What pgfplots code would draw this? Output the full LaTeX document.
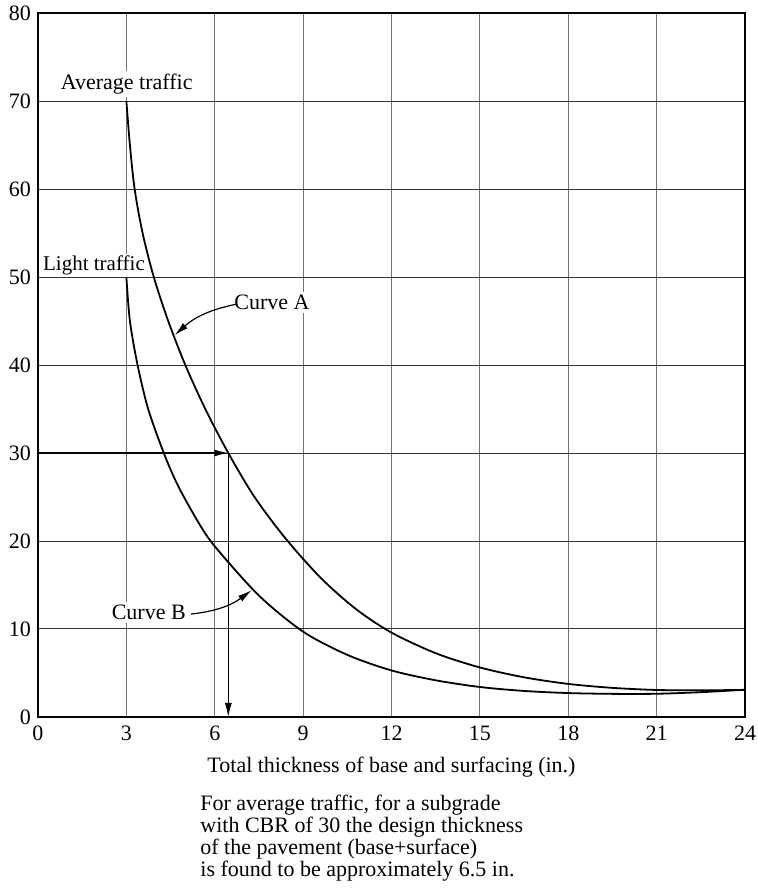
\documentclass[border=0pt]{standalone}
\usepackage{pgfplots}
\pgfplotsset{compat=1.18}
\usepackage{fontspec}
\setmainfont{Liberation Serif}
\usetikzlibrary{arrows.meta}
\begin{document}
\begin{tikzpicture}[font=\fontsize{11}{12}\selectfont]
\begin{axis}[
  scale only axis,
  width=353.5pt, height=352pt,
  xmin=0, xmax=24, ymin=0, ymax=80,
  xtick={0,3,...,24}, ytick={0,10,...,80},
  /pgf/number format/assume math mode=true,
  xticklabel style={anchor=base, yshift=-12pt},
  major tick length=0pt,
  grid=major,
  major x grid style={black!55, line width=0.5pt},
  major y grid style={black!80, line width=0.5pt},
  axis line style={black, line width=0.9pt},
  clip=false,
  xlabel={Total thickness of base and surfacing (in.)},
  xlabel style={at={(axis description cs:0.5,0)}, anchor=base, yshift=-27.5pt},
]
% labels with white background (cover grid lines)
\node[anchor=base, fill=white, inner sep=1.5pt] at (axis cs:3.01,71.3) {Average traffic};
\node[anchor=base, fill=white, inner sep=0.8pt, font=\fontsize{10.5}{12}\selectfont] at (axis cs:1.9,50.7) {Light traffic};
\node[anchor=base, fill=white, inner sep=1.5pt] at (axis cs:7.94,46.3) {Curve A};
\node[anchor=base, fill=white, inner sep=1.5pt] at (axis cs:3.76,11.1) {Curve B};
% Curve A: average traffic
\addplot[black, line width=0.9pt, smooth, tension=0.5] coordinates {
(3,70) (3.12,65) (3.28,60) (3.55,55) (3.93,50) (4.42,45) (5.0,40) (5.68,35)
(6.46,30) (7.35,25) (8.4,20.3) (9.6,15.8) (10.8,12.25) (12,9.59) (13.5,7.25)
(15,5.63) (16.5,4.51) (18,3.76) (19.5,3.31) (21,3.07) (22.5,3.03) (24,3.08)
};
% Curve B: light traffic
\addplot[black, line width=0.9pt, smooth, tension=0.5] coordinates {
(3,50) (3.12,45) (3.38,40) (3.74,35) (4.27,30) (4.75,26.3) (5.43,22.2) (6,19.4)
(7.5,13.8) (9,9.7) (10.5,7.06) (12,5.29) (13.5,4.17) (15,3.41) (16.5,2.96)
(18,2.72) (19.5,2.63) (21,2.64) (22.5,2.82) (24,3.1)
};
% design example arrows
\draw[black, line width=0.6pt, -{Latex[length=7pt,width=3.5pt]}] (axis cs:0,30) -- (axis cs:6.46,30);
\draw[black, line width=0.6pt, -{Latex[length=7pt,width=3.5pt]}] (axis cs:6.46,30) -- (axis cs:6.46,0);
% label arrows
\draw[black, line width=0.6pt, -{Latex[length=7pt,width=3.5pt]}] (axis cs:6.72,46.9) to[bend right=15] (axis cs:4.64,43.4);
\draw[black, line width=0.6pt, -{Latex[length=7pt,width=3.5pt]}] (axis cs:5.2,11.7) to[bend right=15] (axis cs:7.25,14.4);
\end{axis}
\node[anchor=north west, align=left, inner sep=0pt, font=\fontsize{11}{10.9}\selectfont]
  at ([shift={(81pt,-39pt)}]current axis.south west)
  {For average traffic, for a subgrade\\with CBR of 30 the design thickness\\of the pavement (base+surface)\\is found to be approximately 6.5 in.};
\pgfresetboundingbox
\path[use as bounding box] ([shift={(-19pt,-87.5pt)}]current axis.south west) rectangle ([shift={(359.5pt,358.5pt)}]current axis.south west);
\end{tikzpicture}
\end{document}
